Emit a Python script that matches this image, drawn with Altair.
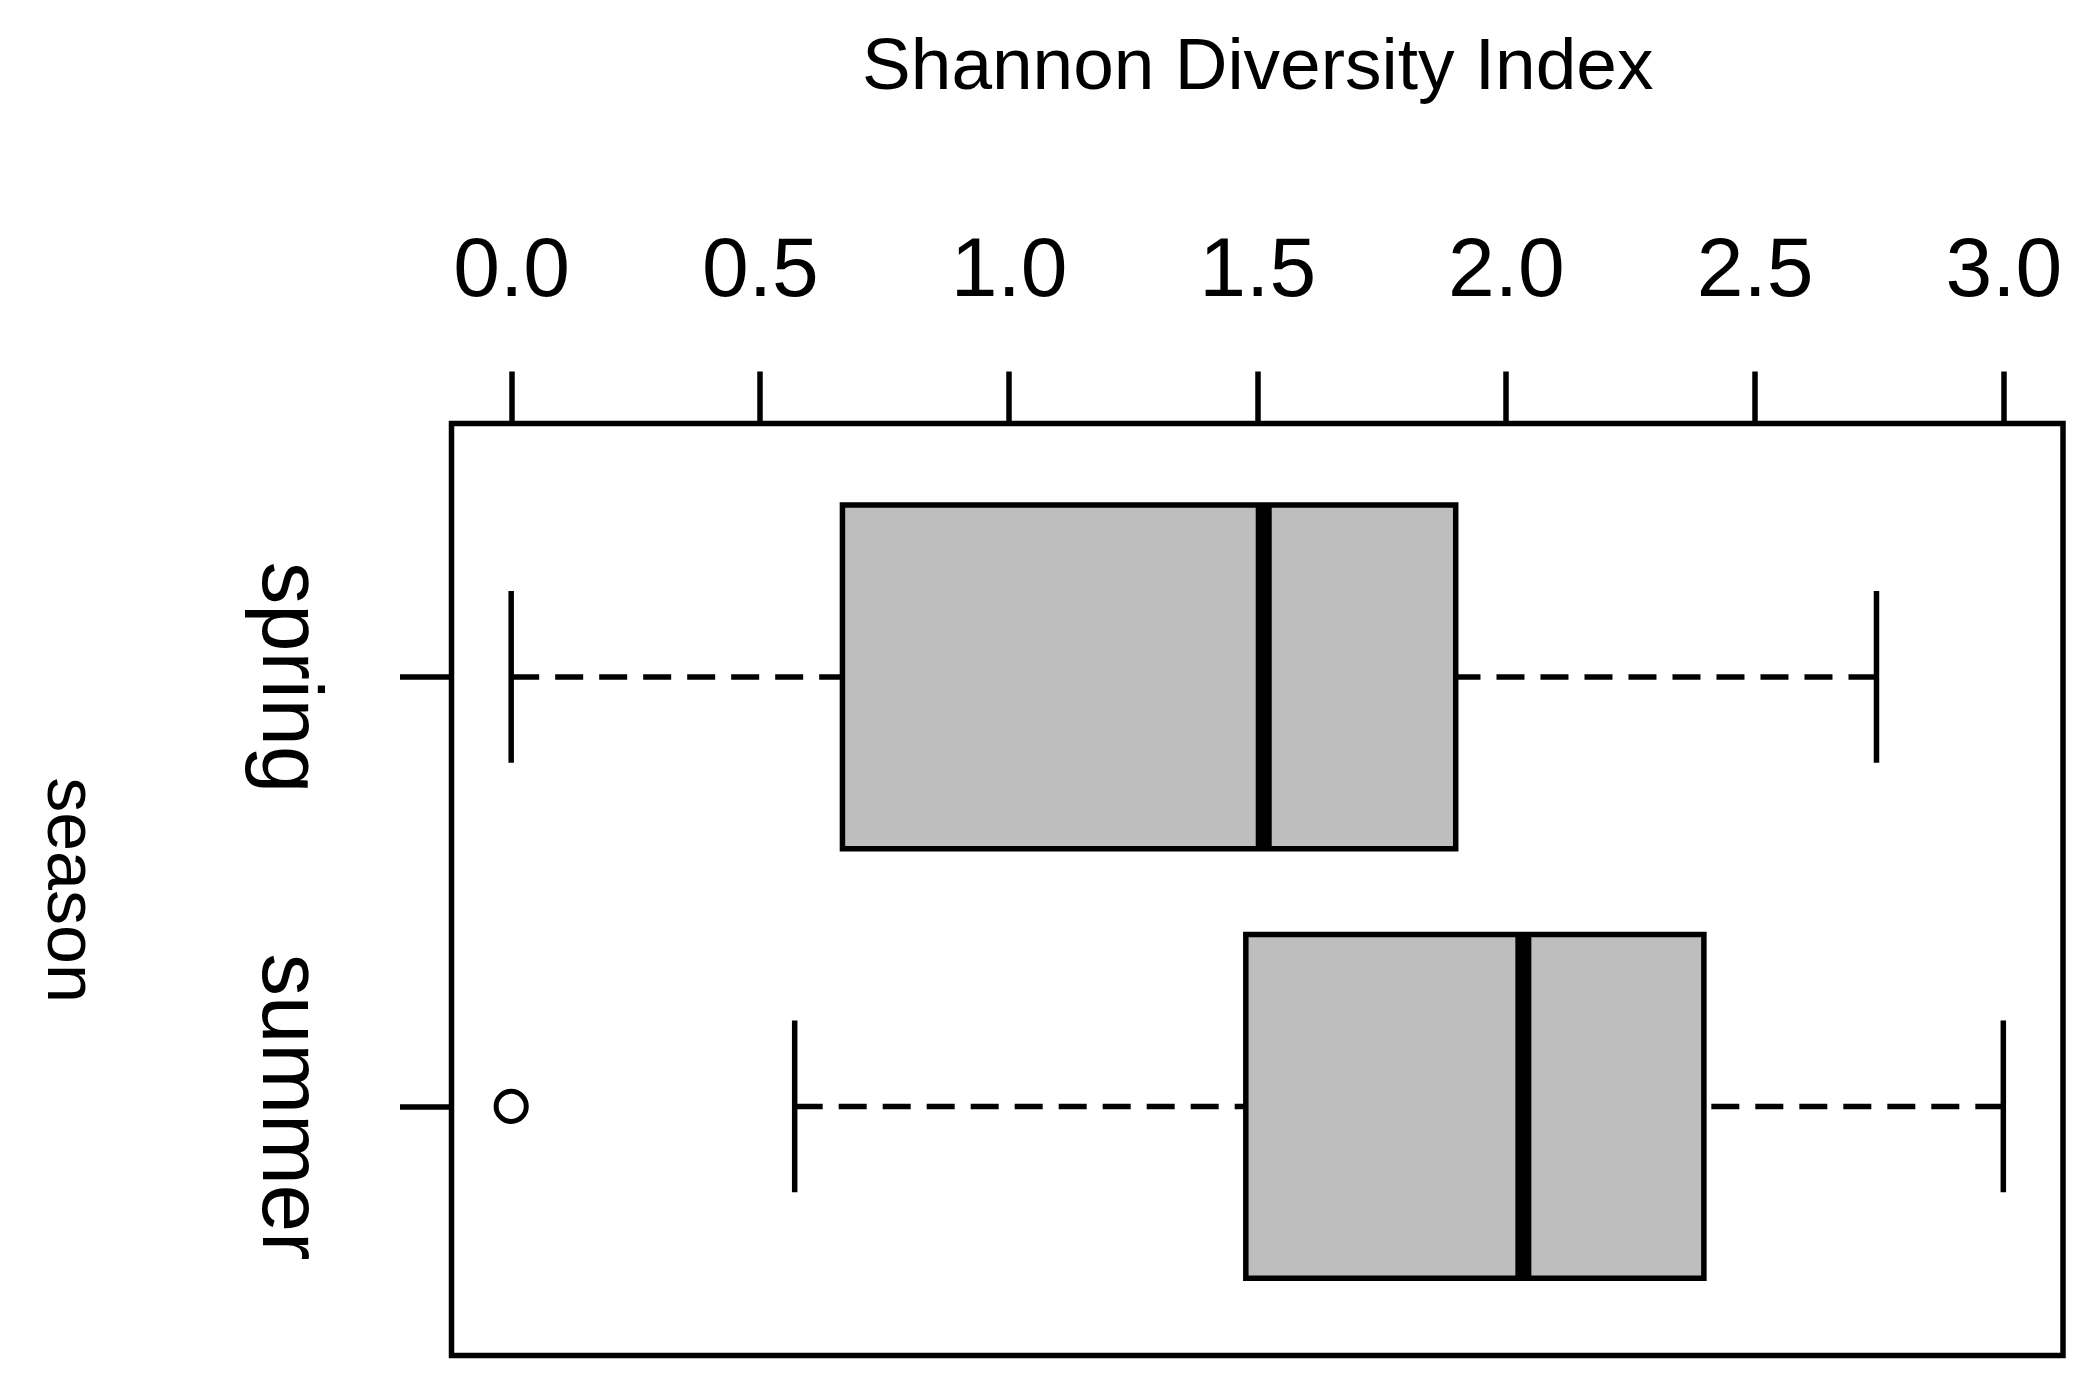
import altair as alt
import pandas as pd

# ---- data ----
seasons = ["spring", "summer"]
positions = [1, 2]
whisker_low = [0.0, 0.57]
q1 = [0.666, 1.477]
median = [1.513, 2.035]
q3 = [1.899, 2.398]
whisker_high = [2.745, 3.0]
outlier_season = ["summer"]
outlier_value = [0.0]
x_ticks = [0.0, 0.5, 1.0, 1.5, 2.0, 2.5, 3.0]

stats = pd.DataFrame({
    "season": seasons, "pos": positions, "wl": whisker_low, "q1": q1,
    "med": median, "q3": q3, "wh": whisker_high,
})
pos_of = dict(zip(seasons, positions))
outliers = pd.DataFrame({"season": outlier_season, "value": outlier_value})
outliers["pos"] = outliers["season"].map(pos_of)

# ---- layout / style ----
W, H = 1611.5, 932
BOX_HALF = 0.4
CAP_HALF = 0.2
FONT = "Liberation Sans"

xs = alt.Scale(domain=[-0.12, 3.12], nice=False, zero=False)
ys = alt.Scale(domain=[0.41, 2.58], reverse=True, nice=False, zero=False)

label_expr = " : ".join(
    [f"datum.value == {p} ? '{s}'" for p, s in zip(positions[:-1], seasons[:-1])]
    + [f"'{seasons[-1]}'"]
)

x_axis = alt.Axis(
    orient="top", values=x_ticks, format=".1f", title="Shannon Diversity Index",
    domain=False, grid=False, ticks=True, tickSize=52.5, tickWidth=5.5, tickColor="black",
    labelFont=FONT, labelFontSize=84, labelColor="black", labelPadding=76,
    labelBaseline="alphabetic", labelAlign="center", labelFlush=False,
    labelOverlap=False, labelBound=False, labelLimit=0,
    titleFont=FONT, titleFontSize=73, titleFontWeight="normal", titleColor="black",
    titleBaseline="alphabetic", titleAlign="center", titleX=W / 2, titleY=-335.5,
    titleLimit=0,
)
y_axis = alt.Axis(
    orient="left", values=positions, labelExpr=label_expr, title="season",
    domain=False, grid=False, ticks=True, tickSize=52, tickWidth=5.5, tickColor="black",
    labelFont=FONT, labelFontSize=85, labelColor="black", labelPadding=137.5,
    labelAngle=90, labelAlign="center", labelBaseline="alphabetic",
    labelFlush=False, labelOverlap=False, labelBound=False, labelLimit=0,
    titleFont=FONT, titleFontSize=70, titleFontWeight="normal", titleColor="black",
    titleAngle=90, titleAlign="center", titleBaseline="alphabetic",
    titleX=-404.5, titleY=H / 2, titleLimit=0,
)

base = alt.Chart(stats).transform_calculate(
    box_lo=f"datum.pos - {BOX_HALF}", box_hi=f"datum.pos + {BOX_HALF}",
    cap_lo=f"datum.pos - {CAP_HALF}", cap_hi=f"datum.pos + {CAP_HALF}",
)


def X(field):
    return alt.X(field, scale=xs, axis=x_axis)


def Y(field):
    return alt.Y(field, scale=ys, axis=y_axis)


dash = [28, 16]
whisk_lo = base.mark_rule(color="black", strokeWidth=5.5, strokeDash=dash).encode(
    x=X("wl:Q"), x2="q1:Q", y=Y("pos:Q"),
)
whisk_hi = base.mark_rule(color="black", strokeWidth=5.5, strokeDash=dash).encode(
    x=X("wh:Q"), x2="q3:Q", y=Y("pos:Q"),
)
cap_lo = base.mark_rule(color="black", strokeWidth=5.5).encode(
    x=X("wl:Q"), y=Y("cap_lo:Q"), y2="cap_hi:Q",
)
cap_hi = base.mark_rule(color="black", strokeWidth=5.5).encode(
    x=X("wh:Q"), y=Y("cap_lo:Q"), y2="cap_hi:Q",
)
box = base.mark_rect(fill="#bebebe", stroke="black", strokeWidth=5.5).encode(
    x=X("q1:Q"), x2="q3:Q", y=Y("box_lo:Q"), y2="box_hi:Q",
)
med = base.mark_rule(color="black", strokeWidth=16).encode(
    x=X("med:Q"), y=Y("box_lo:Q"), y2="box_hi:Q",
)
outl = alt.Chart(outliers).mark_point(
    shape="circle", filled=False, size=908, strokeWidth=5, color="black", opacity=1
).encode(
    x=X("value:Q"), y=Y("pos:Q"),
)

chart = alt.layer(whisk_lo, whisk_hi, cap_lo, cap_hi, box, med, outl).properties(
    width=W, height=H,
    autosize=alt.AutoSizeParams(type="none"),
    padding={"left": 443.5, "top": 415.5, "right": 20, "bottom": 12},
    background="white",
).configure_view(
    stroke="black", strokeWidth=5.5, fill="white"
)

chart.save("out.html", embed_options={"renderer": "svg", "actions": False})
